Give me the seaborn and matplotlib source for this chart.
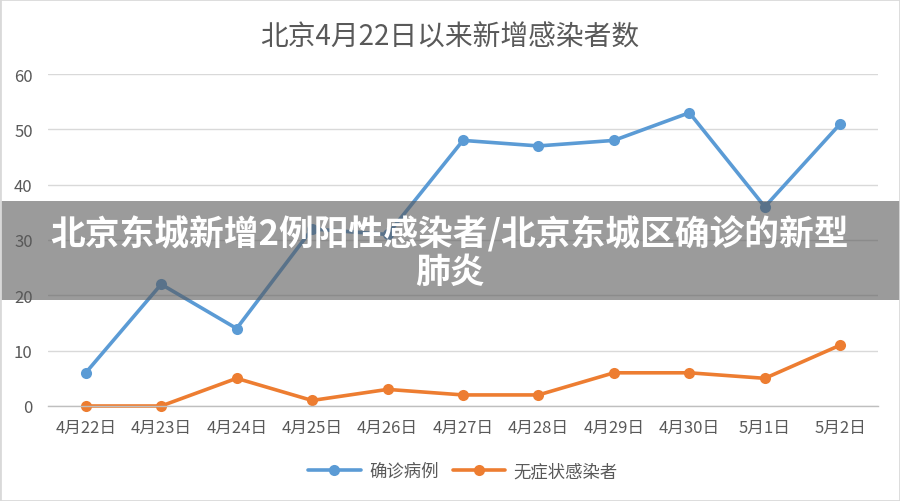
import matplotlib
matplotlib.use("Agg")
import matplotlib.pyplot as plt
import seaborn as sns
import pandas as pd
from matplotlib.patches import Rectangle

dates = ["4月22日", "4月23日", "4月24日", "4月25日", "4月26日", "4月27日",
         "4月28日", "4月29日", "4月30日", "5月1日", "5月2日"]
confirmed = [6, 22, 14, 32, 31, 48, 47, 48, 53, 36, 51]
asymptomatic = [0, 0, 5, 1, 3, 2, 2, 6, 6, 5, 11]
series_names = ["确诊病例", "无症状感染者"]
series_colors = ["#5B9BD5", "#ED7D31"]
title_text = "北京4月22日以来新增感染者数"
banner_text = "北京东城新增2例阳性感染者/北京东城区确诊的新型\n肺炎"
yticks = [0, 10, 20, 30, 40, 50, 60]

sns.set_theme(style="white")
plt.rcParams['font.family'] = ['Noto Sans CJK SC', 'DejaVu Sans']

df = pd.DataFrame({
    "pos": list(range(len(dates))) * 2,
    "value": confirmed + asymptomatic,
    "series": [series_names[0]] * len(dates) + [series_names[1]] * len(dates),
})

fig = plt.figure(figsize=(9, 5.02), dpi=100)
ax = fig.add_axes([48 / 900, 1 - 407 / 502, 830 / 900, 332 / 502])

grey = "#595959"
sns.lineplot(data=df, x="pos", y="value", hue="series", palette=series_colors,
             marker="o", markersize=8, markeredgewidth=0, linewidth=2.6,
             ax=ax, legend=True, sort=False)
for ln in ax.lines:
    ln.set_clip_on(False)

ax.set_xlim(-0.5, len(dates) - 0.5)
ax.set_ylim(0, 60)
ax.set_yticks(yticks)
ax.set_yticklabels([str(v) for v in yticks], fontsize=12, color=grey)
ax.set_xticks(range(len(dates)))
ax.set_xticklabels(dates, fontsize=12, color=grey)
ax.tick_params(axis="x", length=0, pad=9)
ax.tick_params(axis="y", length=0, pad=11)
# category boundary ticks
ax.set_xticks([i - 0.5 for i in range(len(dates) + 1)], minor=True)
ax.tick_params(axis="x", which="minor", length=5, color="#bfbfbf", width=1)
ax.set_xlabel("")
ax.set_ylabel("")
for s in ["top", "right", "left"]:
    ax.spines[s].set_visible(False)
ax.spines["bottom"].set_color("#bfbfbf")
ax.spines["bottom"].set_linewidth(1)
ax.yaxis.grid(True, color="#d9d9d9", linewidth=1)
ax.set_axisbelow(True)

leg = ax.legend(loc="center", bbox_to_anchor=(0.5, (472 - 407) / -332),
                ncol=2, frameon=False, fontsize=12.5, handlelength=3.0,
                columnspacing=0.8, handletextpad=0.5)
for t in leg.get_texts():
    t.set_color(grey)

fig.text(0.5, 1 - 38 / 502, title_text, ha="center", va="center",
         fontsize=20, color=grey)

# overlay banner
fig.patches.append(Rectangle((0, 1 - 301 / 502), 1, 99 / 502,
                             transform=fig.transFigure, facecolor="#585858",
                             alpha=0.6, edgecolor="none", zorder=10))
fig.text(0.5, 1 - 253 / 502, banner_text, ha="center", va="center",
         fontsize=25, color="white", fontweight="black", linespacing=1.1,
         zorder=11)

# thin frame
fig.patches.append(Rectangle((0, 0), 1, 1, transform=fig.transFigure,
                             facecolor="none", edgecolor="#d9d9d9",
                             linewidth=2, zorder=12))

fig.savefig("out.png", dpi=100)
